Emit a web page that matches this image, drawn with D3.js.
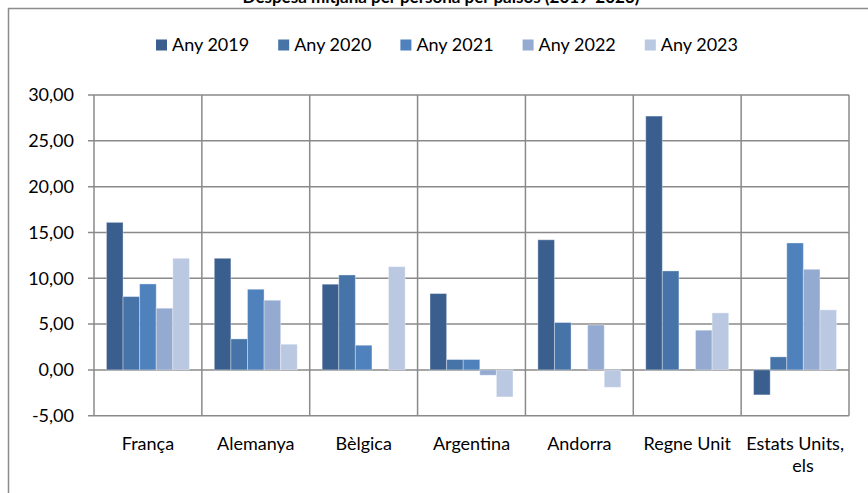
<!DOCTYPE html>
<html>
<head>
<meta charset="utf-8">
<script src="https://cdn.jsdelivr.net/npm/d3@7"></script>
<style>
  html, body { margin: 0; padding: 0; background: #fff; }
  svg { display: block; }
  text { font-family: Lato, "Open Sans", sans-serif; fill: #000; }
</style>
</head>
<body>
<svg id="chart" width="868" height="493"></svg>
<script>
const categories = ["França", "Alemanya", "Bèlgica", "Argentina", "Andorra", "Regne Unit", "Estats Units, els"];
const seriesNames = ["Any 2019", "Any 2020", "Any 2021", "Any 2022", "Any 2023"];
const any2019 = [16.10, 12.18, 9.35, 8.33, 14.20, 27.70, -2.73];
const any2020 = [8.00, 3.38, 10.36, 1.13, 5.17, 10.80, 1.42];
const any2021 = [9.38, 8.80, 2.69, 1.13, 0.00, 0.00, 13.85];
const any2022 = [6.73, 7.60, 0.00, -0.58, 4.90, 4.33, 10.98];
const any2023 = [12.18, 2.80, 11.27, -2.95, -1.90, 6.22, 6.55];
const yTicks = [-5, 0, 5, 10, 15, 20, 25, 30];
const colors = ["#3A5F8E", "#4673A8", "#4F81BD", "#94AAD0", "#BAC8E1"];

const seriesValues = [any2019, any2020, any2021, any2022, any2023];

const svg = d3.select("#chart");

// outer chart frame
svg.append("path")
  .attr("d", "M8.5,493 L8.5,8.5 L868,8.5")
  .attr("fill", "none").attr("stroke", "#8c8c8c").attr("stroke-width", 1.5);

// title (mostly cut off at the top, as in the reference)
svg.append("text")
  .attr("x", 441).attr("y", 3)
  .attr("text-anchor", "middle")
  .style("font-weight", "bold").style("font-size", "17px")
  .text("Despesa mitjana per persona per països (2019-2023)");

const x0 = d3.scaleBand().domain(categories).range([94, 849]).paddingInner(0).paddingOuter(0);
const x1 = d3.scaleBand().domain(seriesNames).range([0, x0.bandwidth()]).paddingInner(0).paddingOuter(0.75);
const y = d3.scaleLinear().domain([-5, 30]).range([415.7, 95]);

const gridColor = "#8a8a8a";

// horizontal gridlines + ticks
svg.append("g").selectAll("line").data(yTicks).join("line")
  .attr("x1", 88).attr("x2", 849)
  .attr("y1", d => y(d)).attr("y2", d => y(d))
  .attr("stroke", gridColor).attr("stroke-width", 1.5);

// vertical gridlines at category boundaries
const bounds = categories.map(c => x0(c)).concat([x0.range()[1]]);
svg.append("g").selectAll("line").data(bounds).join("line")
  .attr("x1", d => d).attr("x2", d => d)
  .attr("y1", y(30)).attr("y2", y(-5))
  .attr("stroke", gridColor).attr("stroke-width", 1.5);

// y axis labels
const fmt = d => d3.format(".2f")(d).replace(".", ",").replace("−", "-");
svg.append("g").selectAll("text").data(yTicks).join("text")
  .attr("x", 74).attr("y", d => y(d))
  .attr("dy", "0.35em")
  .attr("text-anchor", "end")
  .style("font-size", "18px")
  .text(fmt);

// bars
const groups = svg.append("g").selectAll("g").data(categories).join("g")
  .attr("transform", c => `translate(${x0(c)},0)`);
groups.selectAll("rect")
  .data((c, ci) => seriesNames.map((s, si) => ({ s, si, v: seriesValues[si][ci] })))
  .join("rect")
  .filter(d => d.v !== 0)
  .attr("x", d => x1(d.s))
  .attr("width", x1.bandwidth())
  .attr("y", d => y(Math.max(0, d.v)))
  .attr("height", d => Math.abs(y(d.v) - y(0)))
  .attr("fill", d => colors[d.si])
  .attr("stroke", "rgba(255,255,255,0.35)")
  .attr("stroke-width", 1);

// category labels
const xl = svg.append("g");
categories.forEach(c => {
  const cx = x0(c) + x0.bandwidth() / 2;
  if (c === "Estats Units, els") {
    xl.append("text").attr("x", cx).attr("y", 450).attr("text-anchor", "middle")
      .style("font-size", "18px").text("Estats Units,");
    xl.append("text").attr("x", cx + 8).attr("y", 472).attr("text-anchor", "middle")
      .style("font-size", "18px").text("els");
  } else {
    xl.append("text").attr("x", cx).attr("y", 450).attr("text-anchor", "middle")
      .style("font-size", "18px").text(c);
  }
});

// legend
const lg = svg.append("g");
seriesNames.forEach((s, i) => {
  const lx = 156 + i * 122.2;
  lg.append("rect").attr("x", lx).attr("y", 39.5).attr("width", 11).attr("height", 11)
    .attr("fill", colors[i]);
  lg.append("text").attr("x", lx + 16).attr("y", 45).attr("dy", "0.35em")
    .style("font-size", "18px").text(s);
});
</script>
</body>
</html>
